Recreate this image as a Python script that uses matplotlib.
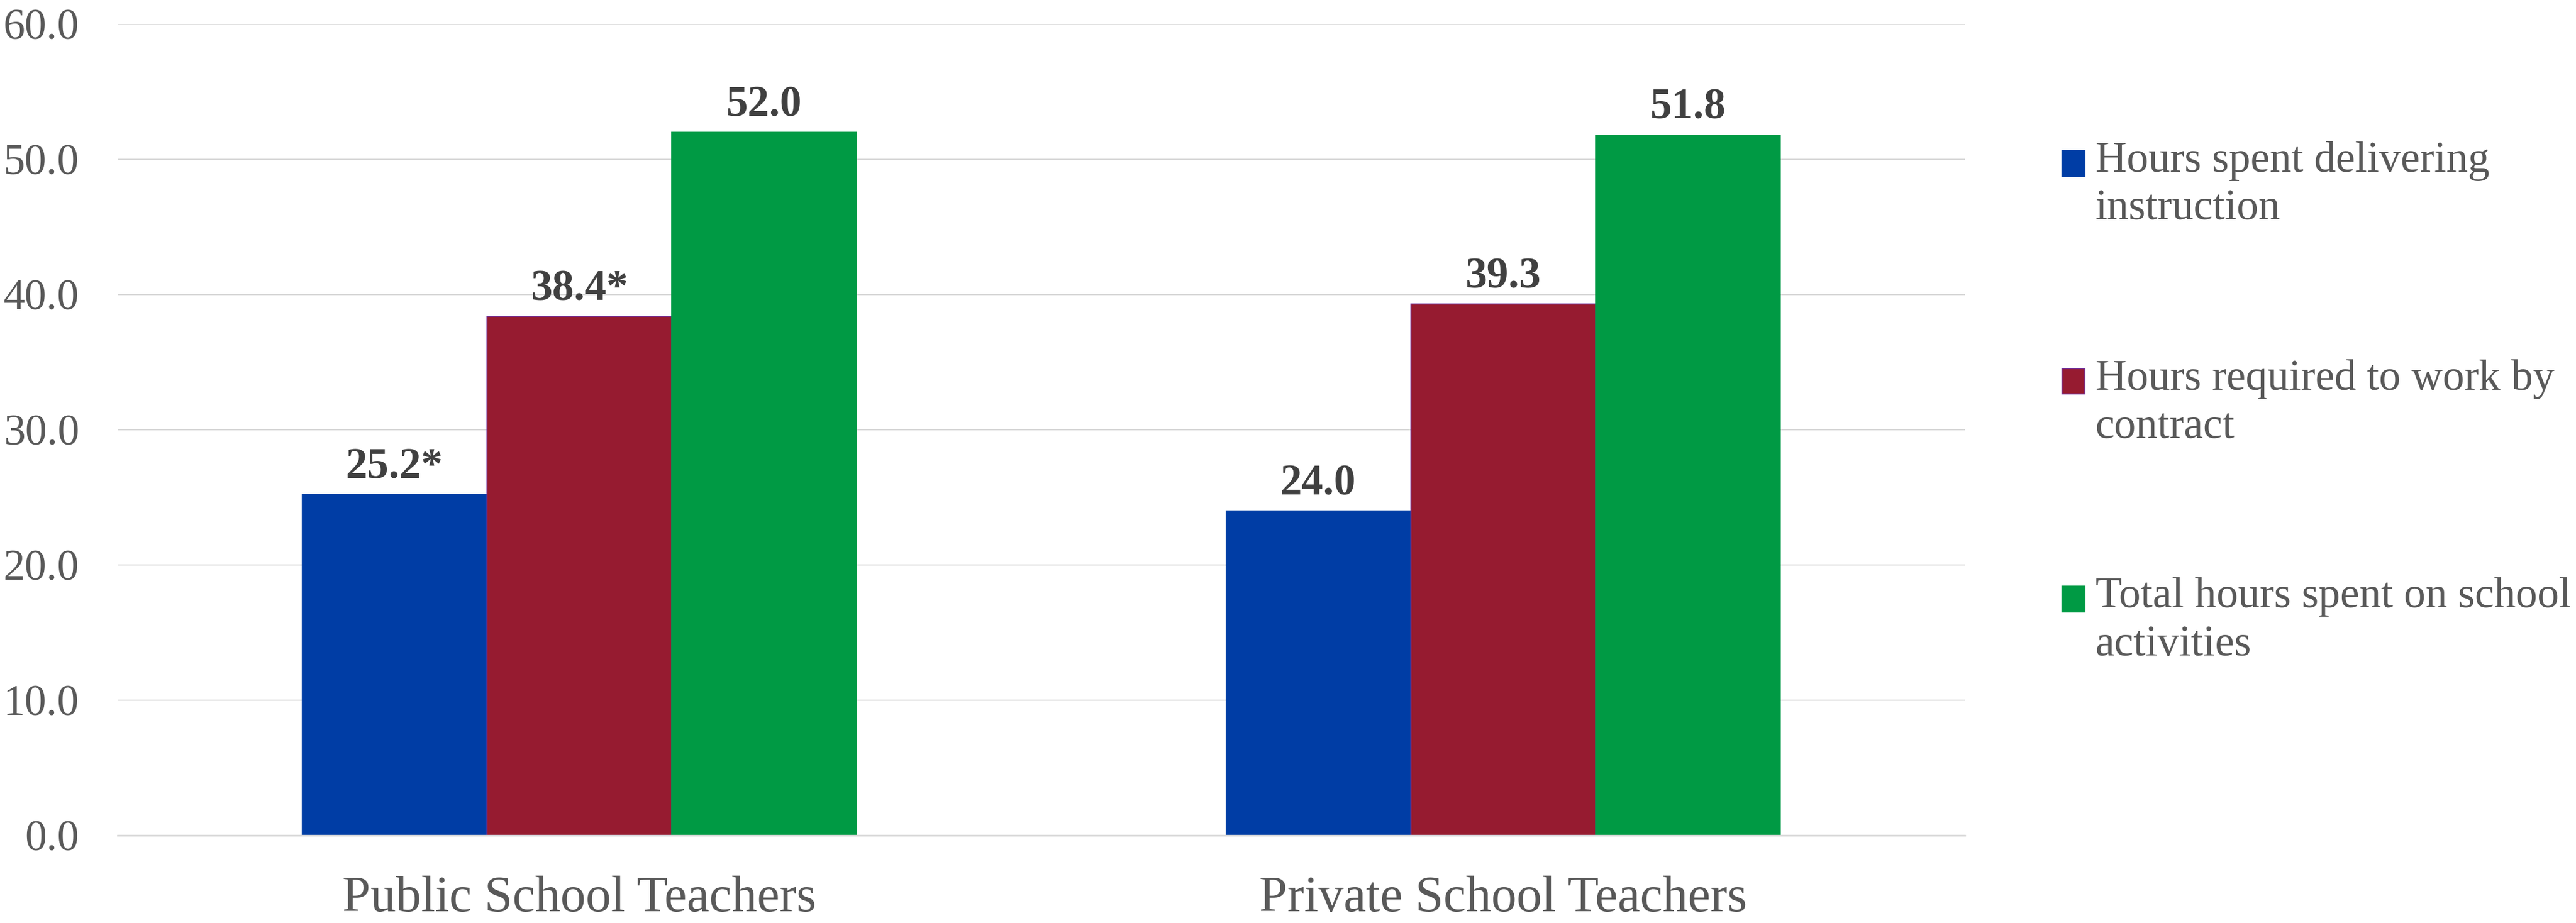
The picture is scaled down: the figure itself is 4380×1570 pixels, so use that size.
# -*- coding: utf-8 -*-
# teacher hours per week: public vs private school teachers (grouped bars)

import numpy as np
import matplotlib
matplotlib.use("Agg")
import matplotlib.pyplot as plt
from matplotlib.patches import Rectangle
from matplotlib.container import BarContainer
from matplotlib.legend_handler import HandlerPatch, update_from_first_child

# data
categories = ["Public School Teachers", "Private School Teachers"]
series_names = ["Hours spent delivering\ninstruction",
                "Hours required to work by\ncontract",
                "Total hours spent on school\nactivities"]
instruction = [25.2, 24.0]
contract = [38.4, 39.3]
total = [52.0, 51.8]
instruction_labels = ["25.2*", "24.0"]
contract_labels = ["38.4*", "39.3"]
total_labels = ["52.0", "51.8"]
yticks = [0, 10, 20, 30, 40, 50, 60]

colors = ["#003DA5", "#961B30", "#009A44"]
edges = ["#003DA5", "#7030A0", "#009A44"]

plt.rcParams['font.family'] = ['Liberation Serif', 'DejaVu Serif']

fig = plt.figure(figsize=(43.8, 15.7), dpi=100)
# axes placed in pixel units of the 4380x1570 canvas
ax = fig.add_axes([200 / 4380, 1 - 1421 / 1570, 3141 / 4380, 1380 / 1570])

x = np.arange(len(categories))
w = 0.2
series = [instruction, contract, total]
labels = [instruction_labels, contract_labels, total_labels]
for i, (vals, labs) in enumerate(zip(series, labels)):
    bars = ax.bar(x + (i - 1) * w, vals, width=w, color=colors[i],
                  edgecolor=edges[i], linewidth=1.2, label=series_names[i], zorder=3)
    for b, lab in zip(bars, labs):
        ax.annotate(lab, (b.get_x() + b.get_width() / 2, b.get_height()),
                    xytext=(0, 20), textcoords="offset points",
                    ha="center", va="baseline", fontsize=53, fontweight="bold",
                    color="#404040")

ax.set_xlim(-0.5, 1.5)
ax.set_ylim(0, 60)
ax.set_yticks(yticks)
ax.set_yticklabels(["%.1f" % t for t in yticks])
ax.set_xticks(x)
ax.set_xticklabels(categories)

ax.tick_params(axis="y", length=0, pad=47, labelsize=53, labelcolor="#595959")
ax.tick_params(axis="x", length=0, pad=49, labelsize=62, labelcolor="#595959")
ax.grid(axis="y", color="#d9d9d9", linewidth=1.5, zorder=0)
for s in ["top", "right", "left"]:
    ax.spines[s].set_visible(False)
ax.spines["bottom"].set_color("#d9d9d9")
ax.spines["bottom"].set_linewidth(2)
ax.spines["bottom"].set_zorder(4)


# legend marker sits next to the first line of the wrapped label
def upper_box(legend, orig_handle, xdescent, ydescent, width, height, fontsize):
    return Rectangle((-xdescent, -ydescent + 0.5 * fontsize), width, height)


handles, lbls = ax.get_legend_handles_labels()
leg = fig.legend(handles, lbls, loc="upper left",
                 bbox_to_anchor=(3506 / 4380, 1 - 240 / 1570),
                 frameon=False, fontsize=53, labelcolor="#595959",
                 handlelength=0.53, handleheight=0.53, handletextpad=0.24,
                 labelspacing=3.0, borderpad=0, borderaxespad=0,
                 handler_map={BarContainer: HandlerPatch(patch_func=upper_box,
                                                         update_func=update_from_first_child)})
for t in leg.get_texts():
    t.set_linespacing(1.28)

fig.savefig("out.png", dpi=100)
